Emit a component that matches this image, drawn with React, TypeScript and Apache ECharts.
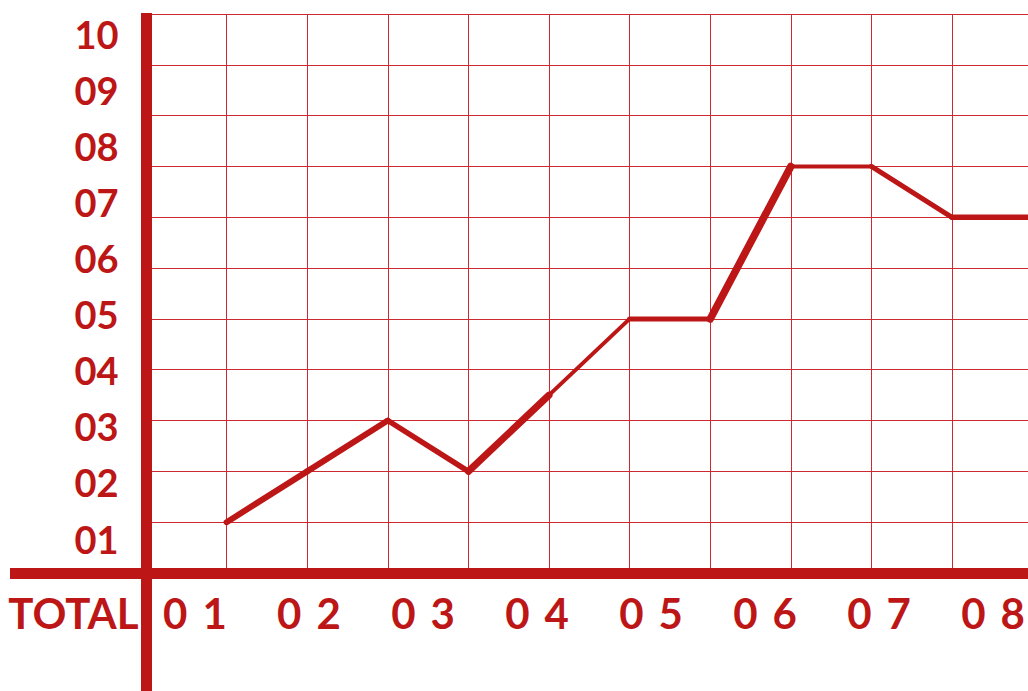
import React, { useEffect, useRef } from "react";
import * as echarts from "echarts";

// ---- data ----
const X_VALUES = [1, 2, 3, 4, 5, 6, 7, 8, 9, 10, 11];
const Y_VALUES = [1, 2, 3, 2, 3.5, 5, 5, 8, 8, 7, 7];
const SEGMENT_WIDTHS = [6, 6, 5.5, 7, 4, 5, 7.5, 4, 5, 5.5];
const Y_TICK_LABELS = ["01", "02", "03", "04", "05", "06", "07", "08", "09", "10"];
const X_TICK_LABELS = ["01", "02", "03", "04", "05", "06", "07", "08"];
const X_FIRST_LABEL = "TOTAL";

// ---- style / layout ----
const RED = "#BC1616";
const GRID_RED = "#CC2A30";
const FONT = "Lato, 'Open Sans', 'DejaVu Sans', sans-serif";
const W = 1028;
const H = 691;
const AXIS_X = 146.5; // y-axis line position
const AXIS_Y = 573.5; // x-axis line position
const DATA_LEFT = 146;
const DATA_TOP = 14;
const DATA_BOTTOM_PX = 573;
const X_STEP = 80.6;
const XL_ZERO = 80.9; // pixel of label value 0
const XL_STEP = 114.1;
const YL_ZERO = 594.6; // pixel of label value 0
const YL_STEP = 56.1;

const isInt = (v: number) => Math.abs(v - Math.round(v)) < 1e-6;

export default function App() {
  const ref = useRef<HTMLDivElement>(null);

  useEffect(() => {
    if (!ref.current) return;
    const chart = echarts.init(ref.current, undefined, { renderer: "svg", width: W, height: H });

    const segSeries = SEGMENT_WIDTHS.map((w, i) => ({
      type: "line",
      xAxisIndex: 0,
      yAxisIndex: 0,
      showSymbol: false,
      symbol: "none",
      z: 5,
      lineStyle: { color: RED, width: w, cap: "round", join: "miter" },
      data: [
        [X_VALUES[i], Y_VALUES[i]],
        [X_VALUES[i + 1], Y_VALUES[i + 1]],
      ],
    }));

    const labelStyle = { color: RED, fontFamily: FONT, fontWeight: "bold", fontSize: 42 };

    const option: any = {
      animation: false,
      backgroundColor: "#ffffff",
      grid: [
        // data grid
        { left: DATA_LEFT, top: DATA_TOP, right: 0, bottom: H - DATA_BOTTOM_PX, containLabel: false },
        // x label grid
        { left: XL_ZERO, right: 0, top: 0, bottom: H - AXIS_Y },
        // y label grid
        { left: AXIS_X, right: 0, top: 0, bottom: H - YL_ZERO },
      ],
      xAxis: [
        {
          type: "value",
          gridIndex: 0,
          min: 0,
          max: (W - DATA_LEFT) / X_STEP,
          interval: 1,
          axisLine: { show: false },
          axisTick: { show: false },
          axisLabel: { show: false },
          splitLine: { show: true, lineStyle: { color: GRID_RED, width: 1 } },
        },
        {
          type: "value",
          gridIndex: 1,
          min: 0,
          max: (W - XL_ZERO) / XL_STEP,
          interval: 1,
          axisLine: { show: false },
          axisTick: { show: false },
          splitLine: { show: false },
          axisLabel: {
            show: true,
            margin: 39,
            verticalAlign: "middle",
            showMaxLabel: false,
            ...labelStyle,
            formatter: (v: number) => {
              if (!isInt(v)) return "";
              const k = Math.round(v);
              if (k === 0) return `{t|${X_FIRST_LABEL}}`;
              const s = X_TICK_LABELS[k - 1];
              if (!s) return "";
              return `{a|${s[0]}}{b|${s[1]}}`;
            },
            rich: {
              t: { ...labelStyle, padding: [0, 15, 0, 0] },
              a: { ...labelStyle, padding: [0, 15, 0, 0] },
              b: { ...labelStyle },
            },
          },
        },
        {
          type: "value",
          gridIndex: 2,
          min: 0,
          max: 1,
          show: false,
        },
      ],
      yAxis: [
        {
          type: "value",
          gridIndex: 0,
          min: 0,
          max: 11,
          interval: 1,
          axisLine: { show: false },
          axisTick: { show: false },
          axisLabel: { show: false },
          splitLine: { show: true, lineStyle: { color: GRID_RED, width: 1 } },
        },
        {
          type: "value",
          gridIndex: 1,
          min: 0,
          max: 1,
          show: false,
        },
        {
          type: "value",
          gridIndex: 2,
          min: 0,
          max: YL_ZERO / YL_STEP,
          interval: 1,
          axisLine: { show: false },
          axisTick: { show: false },
          splitLine: { show: false },
          axisLabel: {
            show: true,
            margin: 28,
            color: RED,
            fontFamily: FONT,
            fontWeight: "bold",
            fontSize: 38,
            showMaxLabel: false,
            formatter: (v: number) => (isInt(v) ? Y_TICK_LABELS[Math.round(v) - 1] ?? "" : ""),
          },
        },
      ],
      graphic: [
        {
          type: "line",
          z: 100,
          shape: { x1: AXIS_X, y1: 13, x2: AXIS_X, y2: H },
          style: { stroke: RED, lineWidth: 11 },
        },
        {
          type: "line",
          z: 100,
          shape: { x1: 10, y1: AXIS_Y, x2: W, y2: AXIS_Y },
          style: { stroke: RED, lineWidth: 11 },
        },
      ],
      series: segSeries,
    };

    chart.setOption(option);
    return () => chart.dispose();
  }, []);

  return (
    <div
      ref={ref}
      style={{ position: "fixed", left: 0, top: 0, width: W, height: H, background: "#fff" }}
    />
  );
}
